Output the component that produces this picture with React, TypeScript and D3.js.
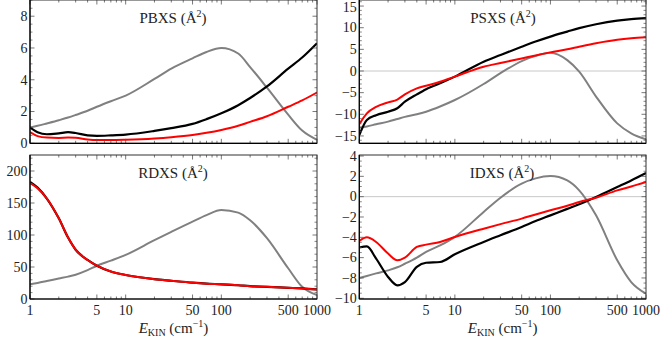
import React from "react";
import * as d3 from "d3";

const energies = [1, 1.2, 1.5, 2, 2.5, 3, 4, 5, 7, 10, 20, 30, 50, 70, 100, 150, 200, 300, 500, 700, 1000];

const pbxsGray = [1.0, 1.1, 1.25, 1.45, 1.62, 1.78, 2.05, 2.3, 2.65, 3.0, 4.05, 4.7, 5.35, 5.75, 6.0, 5.65, 4.8, 3.5, 1.8, 0.8, 0.22];
const pbxsBlack = [1.0, 0.7, 0.57, 0.63, 0.7, 0.65, 0.5, 0.47, 0.5, 0.55, 0.78, 0.95, 1.22, 1.52, 1.89, 2.4, 2.85, 3.58, 4.7, 5.4, 6.3];
const pbxsRed = [0.7, 0.45, 0.36, 0.34, 0.36, 0.35, 0.24, 0.2, 0.2, 0.22, 0.3, 0.38, 0.52, 0.66, 0.84, 1.1, 1.35, 1.7, 2.3, 2.7, 3.2];

const psxsGray = [-13.1, -12.8, -12.3, -11.7, -11.1, -10.6, -10.0, -9.4, -8.2, -6.7, -3.0, -0.5, 2.3, 3.5, 4.2, 2.5, -0.15, -5.9, -12.1, -14.4, -15.8];
const psxsBlack = [-14.8, -11.3, -10.2, -9.4, -8.6, -7.1, -5.4, -4.2, -2.85, -1.3, 2.16, 3.7, 5.6, 6.8, 7.95, 9.1, 9.9, 10.8, 11.65, 12.0, 12.2];
const psxsRed = [-12.3, -9.8, -8.3, -7.25, -6.6, -5.4, -4.0, -3.4, -2.5, -1.3, 1.0, 1.85, 2.9, 3.6, 4.3, 5.0, 5.6, 6.4, 7.2, 7.55, 7.8];

const rdxsGray = [22.9, 25, 28, 32, 35, 38, 45, 52, 60, 69, 92, 105, 121, 131, 139, 135, 123, 95, 48, 19, 6];
const rdxsBlack = [183, 174, 157, 126, 96, 77, 61, 52, 43, 37.5, 31, 28.5, 25.5, 24, 23, 21.5, 20, 19, 17.5, 16.5, 15];
const rdxsRed = [181, 173, 157, 126, 96, 77, 61, 52, 43, 37.5, 31, 28.5, 25.5, 24, 23, 21.5, 20, 19, 17.5, 16.5, 15];

const idxsGray = [-8.0, -7.8, -7.55, -7.25, -6.95, -6.6, -6.0, -5.44, -4.8, -3.95, -1.5, -0.1, 1.28, 1.8, 2.03, 1.6, 0.62, -1.84, -6.26, -8.4, -9.54];
const idxsBlack = [-5.0, -4.9, -6.1, -7.9, -8.72, -8.4, -6.9, -6.5, -6.43, -5.67, -4.46, -3.8, -2.98, -2.4, -1.84, -1.2, -0.75, -0.03, 0.95, 1.6, 2.33];
const idxsRed = [-4.36, -4.0, -4.46, -5.6, -6.26, -6.0, -4.95, -4.72, -4.46, -3.97, -3.15, -2.7, -2.16, -1.75, -1.34, -0.9, -0.52, -0.1, 0.62, 1.0, 1.44];

const xTickLabels = [1, 5, 10, 50, 100, 500, 1000];

type Panel = {
  id: string;
  title: string;
  x0: number; x1: number; y0: number; y1: number;
  domain: [number, number];
  major: number[];
  minorStep: number;
  gray: number[]; black: number[]; red: number[];
  zeroLine: boolean;
  xLabels: boolean;
  titleX: number; titleY: number;
};

const panels: Panel[] = [
  { id: "pb", title: "PBXS", x0: 30, x1: 317, y0: 0, y1: 143.3, domain: [0, 9.02], major: [0, 2, 4, 6, 8], minorStep: 0.5,
    gray: pbxsGray, black: pbxsBlack, red: pbxsRed, zeroLine: false, xLabels: false, titleX: 173, titleY: 23 },
  { id: "ps", title: "PSXS", x0: 359.3, x1: 646, y0: 0, y1: 143.3, domain: [-16.7, 16.4], major: [-15, -10, -5, 0, 5, 10, 15], minorStep: 1,
    gray: psxsGray, black: psxsBlack, red: psxsRed, zeroLine: true, xLabels: false, titleX: 503, titleY: 23 },
  { id: "rd", title: "RDXS", x0: 30, x1: 317, y0: 155, y1: 299, domain: [0, 225], major: [0, 50, 100, 150, 200], minorStep: 10,
    gray: rdxsGray, black: rdxsBlack, red: rdxsRed, zeroLine: false, xLabels: true, titleX: 173, titleY: 178 },
  { id: "id", title: "IDXS", x0: 359.3, x1: 646, y0: 155, y1: 299, domain: [-10.07, 4.1], major: [-10, -8, -6, -4, -2, 0, 2, 4], minorStep: 0.5,
    gray: idxsGray, black: idxsBlack, red: idxsRed, zeroLine: true, xLabels: true, titleX: 502, titleY: 178 },
];

const minorX: number[] = [];
[1, 10, 100].forEach((d) => {
  for (let k = 1; k < 10; k++) minorX.push(d * k);
});
minorX.push(1000);

const fmt = (v: number) => (v < 0 ? "\u2212" + Math.abs(v) : String(v));
const FONT = "Liberation Serif";

function PanelView({ p }: { p: Panel }) {
  const x = d3.scaleLog().domain([1, 1000]).range([p.x0, p.x1]);
  const y = d3.scaleLinear().domain(p.domain).range([p.y1, p.y0]);
  const line = (vals: number[]) =>
    d3.line<number>()
      .x((_, i) => x(energies[i]))
      .y((v) => y(v))
      .curve(d3.curveMonotoneX)(vals) || "";

  const minorY: number[] = [];
  const [lo, hi] = p.domain;
  for (let v = Math.ceil(lo / p.minorStep) * p.minorStep; v <= hi + 1e-9; v += p.minorStep) {
    const r = Math.round(v * 1000) / 1000;
    if (!p.major.some((m) => Math.abs(m - r) < 1e-6)) minorY.push(r);
  }
  const majorXs = new Set(xTickLabels);
  const tickColor = "#555";

  return (
    <g>
      <defs>
        <clipPath id={"clip-" + p.id}>
          <rect x={p.x0} y={p.y0} width={p.x1 - p.x0} height={p.y1 - p.y0} />
        </clipPath>
      </defs>
      {p.zeroLine && (
        <line x1={p.x0} x2={p.x1} y1={y(0)} y2={y(0)} stroke="#c8c8c8" strokeWidth={1} />
      )}
      <g clipPath={`url(#clip-${p.id})`} fill="none" strokeWidth={2} strokeLinejoin="round">
        <path d={line(p.gray)} stroke="#808080" />
        <path d={line(p.black)} stroke="#000" strokeWidth={2.2} />
        <path d={line(p.red)} stroke="#ff0000" />
      </g>
      {minorX.map((e) => {
        const len = majorXs.has(e) ? 4.5 : 2.5;
        return (
          <g key={"xt" + e} stroke={tickColor} strokeWidth={0.8}>
            <line x1={x(e)} x2={x(e)} y1={p.y1} y2={p.y1 - len} />
            <line x1={x(e)} x2={x(e)} y1={p.y0} y2={p.y0 + len} />
          </g>
        );
      })}
      {p.major.map((v) => (
        <g key={"ym" + v} stroke={tickColor} strokeWidth={0.8}>
          <line x1={p.x0} x2={p.x0 + 4.5} y1={y(v)} y2={y(v)} />
          <line x1={p.x1} x2={p.x1 - 4.5} y1={y(v)} y2={y(v)} />
        </g>
      ))}
      {minorY.map((v) => (
        <g key={"yn" + v} stroke={tickColor} strokeWidth={0.7}>
          <line x1={p.x0} x2={p.x0 + 2.5} y1={y(v)} y2={y(v)} />
          <line x1={p.x1} x2={p.x1 - 2.5} y1={y(v)} y2={y(v)} />
        </g>
      ))}
      <rect x={p.x0} y={p.y0} width={p.x1 - p.x0} height={p.y1 - p.y0} fill="none" stroke="#333" strokeWidth={1} />
      <line x1={p.x0} x2={p.x1} y1={p.y1} y2={p.y1} stroke="#000" strokeWidth={1.2} />
      <line x1={p.x0} x2={p.x0} y1={p.y0} y2={p.y1} stroke="#000" strokeWidth={1.2} />
      {p.major.map((v) => (
        <text key={"yl" + v} x={p.x0 - 2.5} y={Math.max(y(v), 7)} dy="0.34em" textAnchor="end" fontFamily={FONT} fontSize={14} fill="#222">
          {fmt(v)}
        </text>
      ))}
      {p.xLabels &&
        xTickLabels.map((e) => (
          <text key={"xl" + e} x={x(e)} y={315} textAnchor="middle" fontFamily={FONT} fontSize={14} fill="#222">
            {e}
          </text>
        ))}
      {p.xLabels && (
        <text x={(p.x0 + p.x1) / 2} y={333} textAnchor="middle" fontFamily={FONT} fontSize={15} fill="#222">
          <tspan fontStyle="italic">E</tspan>
          <tspan fontSize={10} dy={3}>KIN</tspan>
          <tspan dy={-3}> (cm</tspan>
          <tspan fontSize={10} dy={-6}>{"\u22121"}</tspan>
          <tspan dy={6}>)</tspan>
        </text>
      )}
      <text x={p.titleX} y={p.titleY} textAnchor="middle" fontFamily={FONT} fontSize={15} fill="#222">
        <tspan>{p.title} (Å</tspan>
        <tspan fontSize={10} dy={-6}>2</tspan>
        <tspan dy={6}>)</tspan>
      </text>
    </g>
  );
}

export default function App() {
  return (
    <svg
      width={661}
      height={347}
      viewBox="0 0 661 347"
      style={{ position: "absolute", left: 0, top: 0, background: "#fff" }}
    >
      <rect width={661} height={347} fill="#fff" />
      {panels.map((p) => (
        <PanelView key={p.id} p={p} />
      ))}
    </svg>
  );
}
